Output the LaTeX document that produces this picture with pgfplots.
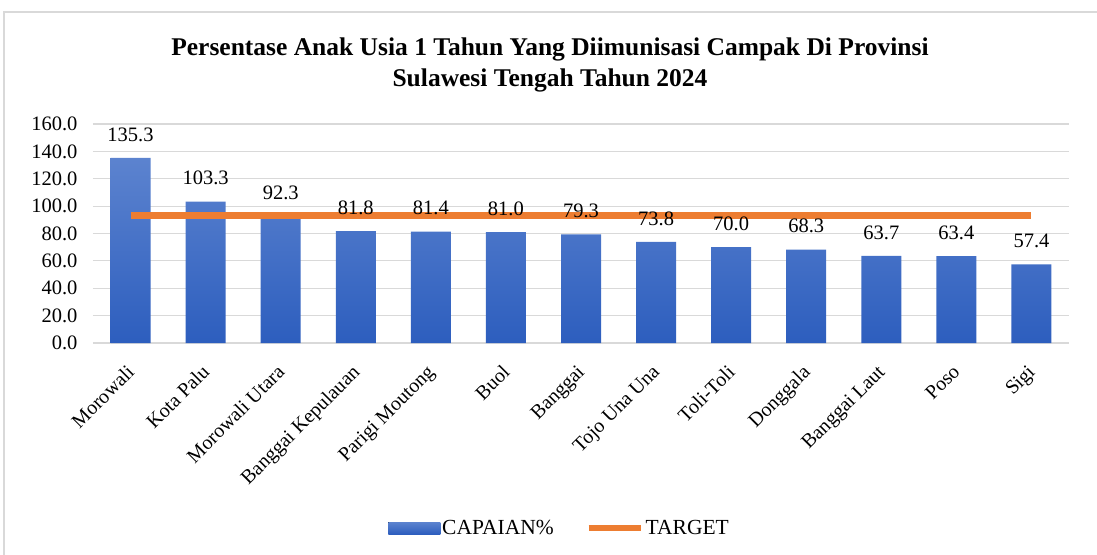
\documentclass[border=0pt]{standalone}
\usepackage{fontspec}
\setmainfont{Liberation Serif}
\usepackage{pgfplots}
\pgfplotsset{compat=1.18}
\definecolor{barTop}{RGB}{92,131,207}
\definecolor{barBot}{RGB}{45,94,190}
\definecolor{tgt}{RGB}{237,125,49}
\definecolor{gridc}{RGB}{217,217,217}
\begin{document}
\begin{tikzpicture}
\useasboundingbox (-93bp,343bp) rectangle (1004bp,-212bp);
\draw[gridc, line width=1.2bp] (-89bp,-215bp) -- (-89bp,331bp) -- (1010bp,331bp);
\node[align=center, font=\fontsize{25.5bp}{31bp}\selectfont\bfseries] at (457bp,278bp)
  {Persentase Anak Usia 1 Tahun Yang Diimunisasi Campak Di Provinsi\\Sulawesi Tengah Tahun 2024};
\begin{axis}[
  at={(0,0)}, anchor=south west,
  scale only axis, width=976bp, height=219bp,
  xmin=-0.5, xmax=12.5, ymin=0, ymax=160,
  ytick={0,20,...,160},
  xtick={0,...,12},
  xticklabels={Morowali, Kota Palu, Morowali Utara, Banggai Kepulauan, Parigi Moutong, Buol, Banggai, Tojo Una Una, Toli-Toli, Donggala, Banggai Laut, Poso, Sigi},
  axis line style={draw=none},
  major tick length=0pt,
  ymajorgrids, grid style={gridc, line width=1.2bp},
  yticklabel style={font=\fontsize{20.5bp}{24bp}\selectfont, /pgf/number format/fixed, /pgf/number format/fixed zerofill, /pgf/number format/precision=1, /pgf/number format/assume math mode=true, xshift=-12bp},
  xticklabel style={font=\fontsize{20bp}{24bp}\selectfont, rotate=45, anchor=north east, inner sep=2bp, xshift=-16bp, yshift=-9bp},
  clip=false,
  legend style={at={(0.478,-0.845)}, anchor=center, draw=none, legend columns=2,
    font=\fontsize{21.5bp}{24bp}\selectfont,
    /tikz/every even column/.append style={column sep=30bp}},
]
\addplot[ybar, bar width=40bp, draw=none, top color=barTop, bottom color=barBot,
  nodes near coords={\pgfmathprintnumber[fixed,fixed zerofill,precision=1,assume math mode=true]{\pgfplotspointmeta}},
  nodes near coords style={font=\fontsize{20.5bp}{24bp}\selectfont, anchor=south, yshift=13bp, text=black},
  legend image code/.code={\fill[top color=barTop, bottom color=barBot] (0bp,-6bp) rectangle (52bp,6bp);}]
coordinates {(0,135.3) (1,103.3) (2,92.3) (3,81.8) (4,81.4) (5,81.0) (6,79.3) (7,73.8) (8,70.0) (9,68.3) (10,63.7) (11,63.4) (12,57.4)};
\addlegendentry{CAPAIAN\%}
\addplot[tgt, line width=7bp, mark=none,
  legend image code/.code={\draw[tgt, line width=6bp] (0bp,0bp) -- (52bp,0bp);}]
coordinates {(0,93) (1,93) (2,93) (3,93) (4,93) (5,93) (6,93) (7,93) (8,93) (9,93) (10,93) (11,93) (12,93)};
\addlegendentry{TARGET}
\end{axis}
\end{tikzpicture}
\end{document}
